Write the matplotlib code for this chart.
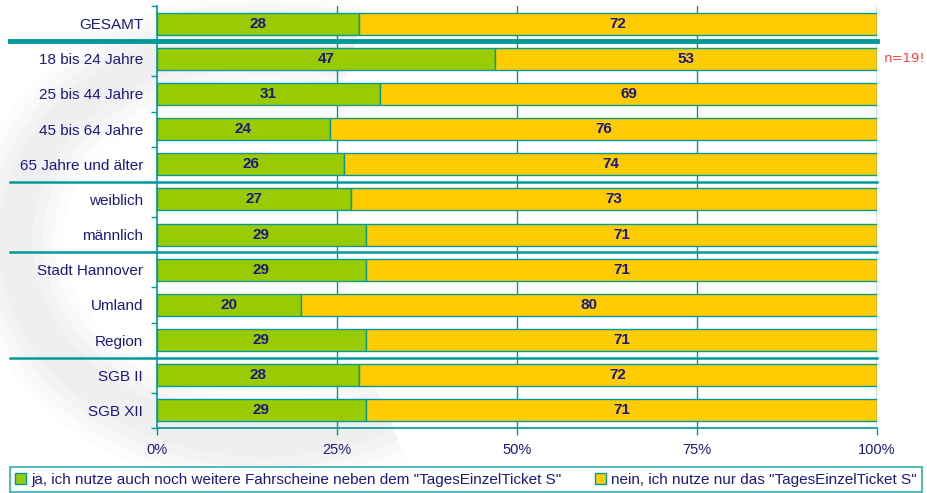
import matplotlib
matplotlib.use('agg')
import matplotlib.pyplot as plt
from matplotlib.patches import Arc
import numpy as np

categories = ['GESAMT', '18 bis 24 Jahre', '25 bis 44 Jahre', '45 bis 64 Jahre',
              '65 Jahre und älter', 'weiblich', 'männlich', 'Stadt Hannover',
              'Umland', 'Region', 'SGB II', 'SGB XII']
ja = [28, 47, 31, 24, 26, 27, 29, 29, 20, 29, 28, 29]
nein = [72, 53, 69, 76, 74, 73, 71, 71, 80, 71, 72, 71]
xticks = [0, 25, 50, 75, 100]
xticklabels = ['0%', '25%', '50%', '75%', '100%']
legend_labels = ['ja, ich nutze auch noch weitere Fahrscheine neben dem "TagesEinzelTicket S"',
                 'nein, ich nutze nur das "TagesEinzelTicket S"']
separators = [0.5, 4.5, 6.5, 9.5]

green = '#99cc00'
yellow = '#ffcc00'
teal = '#00999a'
navy = '#1a1a80'

plt.rcParams['font.family'] = ['Liberation Sans', 'DejaVu Sans']

fig = plt.figure(figsize=(9.28, 4.93), dpi=100)

# decorative grey swoosh in background
bg = fig.add_axes([0, 0, 1, 1], zorder=0)
bg.set_xlim(0, 928)
bg.set_ylim(493, 0)
bg.axis('off')
for w, a in [(70, 0.02), (55, 0.025), (40, 0.03), (25, 0.03)]:
    bg.add_patch(Arc((265, 240), 500, 400, angle=0, theta1=55, theta2=295,
                     color='#777777', lw=w, alpha=a))

ax = fig.add_axes([157/928, 1-428/493, 720/928, 422/493], zorder=1)
ax.patch.set_alpha(0)

y = np.arange(len(categories))
h = 0.63
ax.barh(y, ja, height=h, color=green, edgecolor=teal, linewidth=1, label=legend_labels[0], zorder=3)
ax.barh(y, nein, left=ja, height=h, color=yellow, edgecolor=teal, linewidth=1, label=legend_labels[1], zorder=3)

for i in range(len(categories)):
    ax.text(ja[i]/2, y[i], str(ja[i]), ha='center', va='center', fontsize=11,
            fontweight='bold', color=navy, zorder=4)
    ax.text(ja[i] + nein[i]/2, y[i], str(nein[i]), ha='center', va='center', fontsize=11,
            fontweight='bold', color=navy, zorder=4)

ax.set_xlim(0, 100)
ax.set_ylim(len(categories) - 0.5, -0.5)
ax.set_yticks(y)
ax.set_yticklabels(categories, fontsize=11, color=navy)
ax.set_yticks(np.arange(-0.5, len(categories)), minor=True)
ax.tick_params(axis='y', which='major', length=0, pad=10)
ax.tick_params(axis='y', which='minor', length=4, color=teal, width=1)
ax.set_xticks(xticks)
ax.set_xticklabels(xticklabels, fontsize=10.5, color=navy)
ax.tick_params(axis='x', length=5, color=teal, width=1, pad=6)

for x in xticks[1:]:
    ax.axvline(x, color=teal, lw=1, zorder=1)

for s in ['top', 'right']:
    ax.spines[s].set_visible(False)
for s in ['left', 'bottom']:
    ax.spines[s].set_color(teal)
    ax.spines[s].set_linewidth(1.2)

x0 = (10 - 157) / 720
for k, sep in enumerate(separators):
    ax.plot([x0, 1], [sep, sep], transform=ax.get_yaxis_transform(), color=teal,
            lw=3.5 if k == 0 else 1.8, clip_on=False, zorder=5)

ax.text(101, 1, 'n=19!', color='#ff4040', fontsize=9.5, va='center', ha='left',
        family='DejaVu Sans')

leg = fig.legend(loc='lower left', bbox_to_anchor=(10/928, 1/493, 912/928, 27/493),
                 mode='expand', ncol=2, frameon=True, fancybox=False,
                 handlelength=0.7, handleheight=0.7, handletextpad=0.35, columnspacing=0.4,
                 borderaxespad=0, borderpad=0.35, prop={'size': 11})
leg.get_frame().set_edgecolor(teal)
leg.get_frame().set_linewidth(1.2)
for t in leg.get_texts():
    t.set_color(navy)

fig.savefig('out.png', dpi=100)
